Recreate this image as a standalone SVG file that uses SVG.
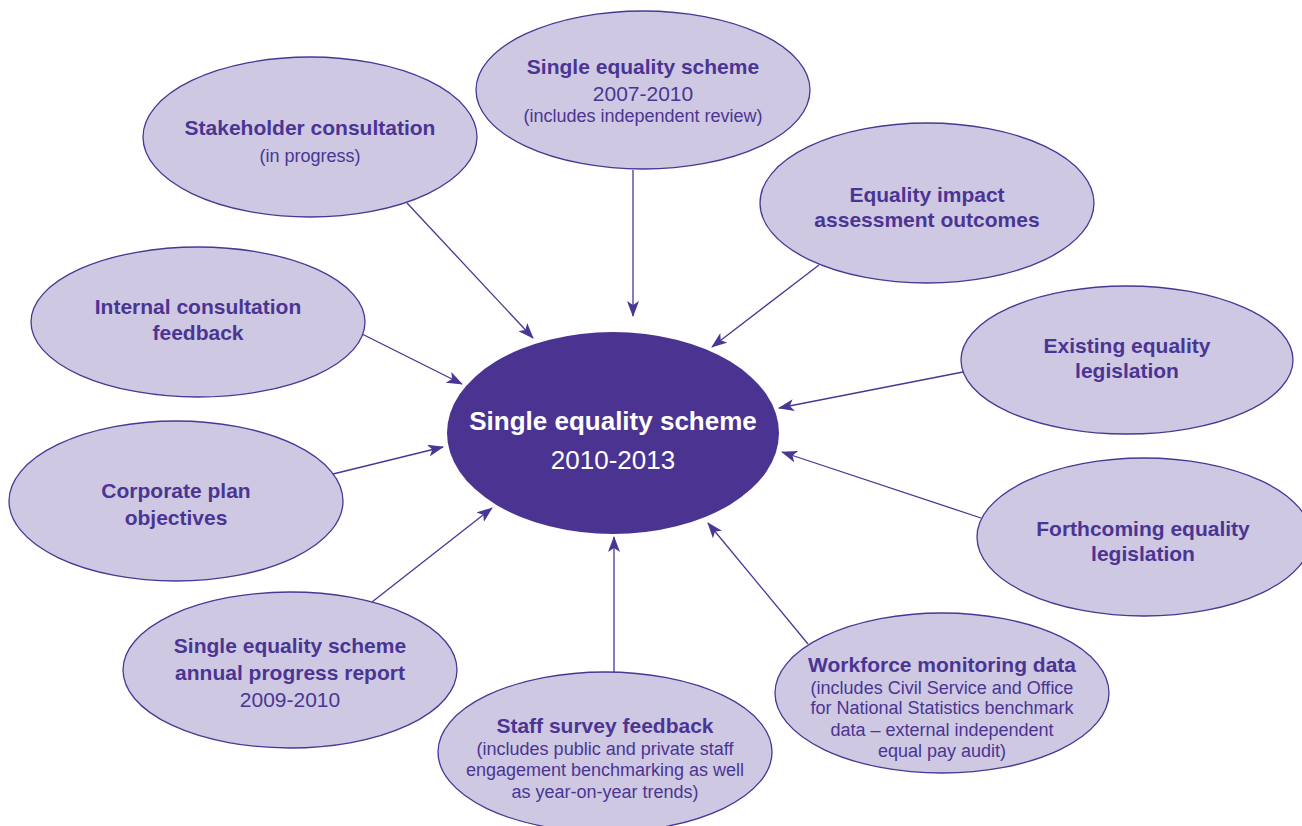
<svg xmlns="http://www.w3.org/2000/svg" width="1302" height="826" viewBox="0 0 1302 826">
  <style>
    .node { fill: #cec8e3; stroke: #4b3694; stroke-width: 1.3; }
    .hub { fill: #4b3391; stroke: none; }
    text { font-family: "Liberation Sans", Arial, sans-serif; text-anchor: middle; fill: #4b3593; }
    .b { font-weight: bold; font-size: 21px; }
    .yr { font-size: 21px; }
    .sm { font-size: 18px; }
    .hubb { font-weight: bold; font-size: 26px; fill: #ffffff; }
    .huby { font-size: 26px; fill: #ffffff; }
    .edge { stroke: #4b3694; stroke-width: 1.3; fill: none; marker-end: url(#arrow); }
  </style>
  <defs>
    <marker id="arrow" viewBox="0 0 16 12" refX="15" refY="6" markerWidth="16" markerHeight="12" markerUnits="userSpaceOnUse" orient="auto">
      <path d="M0,0 L16,6 L0,12 L4,6 Z" fill="#4b3694"/>
    </marker>
  </defs>
  <rect width="1302" height="826" fill="#ffffff"/>

  <g id="connectors">
    <line class="edge" x1="407" y1="203" x2="533" y2="338"/>
    <line class="edge" x1="633" y1="170" x2="633" y2="316"/>
    <line class="edge" x1="819" y1="265" x2="712" y2="347"/>
    <line class="edge" x1="362" y1="334" x2="462" y2="384"/>
    <line class="edge" x1="333" y1="474" x2="443" y2="447"/>
    <line class="edge" x1="372" y1="602" x2="492" y2="508"/>
    <line class="edge" x1="614" y1="672" x2="614" y2="537"/>
    <line class="edge" x1="808" y1="644" x2="708" y2="523"/>
    <line class="edge" x1="963" y1="372" x2="779" y2="408"/>
    <line class="edge" x1="981" y1="518" x2="782" y2="452"/>
  </g>

  <g id="stakeholder">
    <ellipse class="node" cx="310" cy="137" rx="167" ry="80"/>
    <text class="b" x="310" y="135">Stakeholder consultation</text>
    <text class="sm" x="310" y="162">(in progress)</text>
  </g>

  <g id="scheme-2007">
    <ellipse class="node" cx="643" cy="90" rx="167" ry="79"/>
    <text class="b" x="643" y="74">Single equality scheme</text>
    <text class="yr" x="643" y="101">2007-2010</text>
    <text class="sm" x="643" y="122">(includes independent review)</text>
  </g>

  <g id="impact">
    <ellipse class="node" cx="927" cy="203" rx="167" ry="80"/>
    <text class="b" x="927" y="202">Equality impact</text>
    <text class="b" x="927" y="227">assessment outcomes</text>
  </g>

  <g id="internal">
    <ellipse class="node" cx="198" cy="322" rx="167" ry="75"/>
    <text class="b" x="198" y="314">Internal consultation</text>
    <text class="b" x="198" y="340">feedback</text>
  </g>

  <g id="existing">
    <ellipse class="node" cx="1127" cy="360" rx="166" ry="74"/>
    <text class="b" x="1127" y="353">Existing equality</text>
    <text class="b" x="1127" y="378">legislation</text>
  </g>

  <g id="corporate">
    <ellipse class="node" cx="176" cy="501" rx="167" ry="80"/>
    <text class="b" x="176" y="498">Corporate plan</text>
    <text class="b" x="176" y="525">objectives</text>
  </g>

  <g id="forthcoming">
    <ellipse class="node" cx="1144" cy="537" rx="167" ry="79"/>
    <text class="b" x="1143" y="536">Forthcoming equality</text>
    <text class="b" x="1143" y="561">legislation</text>
  </g>

  <g id="annual-report">
    <ellipse class="node" cx="290" cy="670" rx="167" ry="78"/>
    <text class="b" x="290" y="653">Single equality scheme</text>
    <text class="b" x="290" y="680">annual progress report</text>
    <text class="yr" x="290" y="707">2009-2010</text>
  </g>

  <g id="staff-survey">
    <ellipse class="node" cx="605" cy="752" rx="167" ry="80"/>
    <text class="b" x="605" y="733">Staff survey feedback</text>
    <text class="sm" x="605" y="755">(includes public and private staff</text>
    <text class="sm" x="605" y="776">engagement benchmarking as well</text>
    <text class="sm" x="605" y="798">as year-on-year trends)</text>
  </g>

  <g id="workforce">
    <ellipse class="node" cx="942" cy="693" rx="167" ry="80"/>
    <text class="b" x="942" y="672">Workforce monitoring data</text>
    <text class="sm" x="942" y="694">(includes Civil Service and Office</text>
    <text class="sm" x="942" y="714">for National Statistics benchmark</text>
    <text class="sm" x="942" y="736">data – external independent</text>
    <text class="sm" x="942" y="757">equal pay audit)</text>
  </g>

  <g id="hub">
    <ellipse class="hub" cx="613" cy="433" rx="166" ry="101"/>
    <text class="hubb" x="613" y="430">Single equality scheme</text>
    <text class="huby" x="613" y="469">2010-2013</text>
  </g>
</svg>
